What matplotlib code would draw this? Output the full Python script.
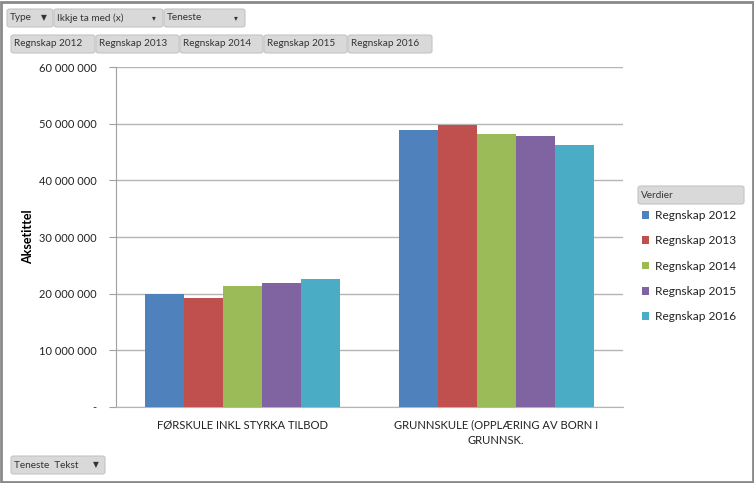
import numpy as np
import matplotlib
matplotlib.use("Agg")
import matplotlib.pyplot as plt
from matplotlib.patches import FancyBboxPatch, Rectangle

plt.rcParams['font.family'] = ['Lato', 'DejaVu Sans']

# data
categories = ["FØRSKULE INKL STYRKA TILBOD", "GRUNNSKULE (OPPLÆRING AV BORN I\nGRUNNSK."]
series = ["Regnskap 2012", "Regnskap 2013", "Regnskap 2014", "Regnskap 2015", "Regnskap 2016"]
v2012 = [20.0e6, 48.8e6]
v2013 = [19.2e6, 49.8e6]
v2014 = [21.3e6, 48.2e6]
v2015 = [21.8e6, 47.8e6]
v2016 = [22.6e6, 46.2e6]
yticks = [0, 10e6, 20e6, 30e6, 40e6, 50e6, 60e6]
ytick_labels = ["-", "10 000 000", "20 000 000", "30 000 000", "40 000 000", "50 000 000", "60 000 000"]
colors = ["#4F81BD", "#C0504D", "#9BBB59", "#8064A2", "#4BACC6"]

W, H = 754, 483
fig = plt.figure(figsize=(W / 100, H / 100), dpi=100)

# axes placed in pixel coords
ax = fig.add_axes([116 / W, 1 - 407 / H, (623 - 116) / W, (407 - 67) / H])

values = [v2012, v2013, v2014, v2015, v2016]
x = np.arange(len(categories))
bw = 0.154
bars = []
for i, (vals, c) in enumerate(zip(values, colors)):
    b = ax.bar(x + (i - 2) * bw, vals, bw, color=c, label=series[i], zorder=3)
    bars.append(b)

ax.set_xlim(-0.5, 1.5)
ax.set_ylim(0, 60e6)
ax.set_yticks(yticks)
ax.set_yticklabels(ytick_labels, fontsize=8, color="#222222")
ax.set_xticks(x)
ax.set_xticklabels(categories, fontsize=8.1, color="#222222", linespacing=1.45)
ax.tick_params(axis="x", length=0, pad=9)
ax.tick_params(axis="y", length=5, color="#a0a0a0", pad=9)
ax.grid(axis="y", color="#b5b5b5", linewidth=1, zorder=0)
for s in ["top", "right"]:
    ax.spines[s].set_visible(False)
ax.spines["left"].set_color("#a0a0a0")
ax.spines["bottom"].set_color("#b5b5b5")
ax.set_ylabel("Aksetittel", fontsize=9, fontweight="bold")
ax.yaxis.set_label_coords((34 - 116) / 507, 0.5)

# legend
leg = fig.legend(handles=bars, labels=series, loc="upper left",
                 bbox_to_anchor=(642 / W, 1 - 210 / H), frameon=False,
                 fontsize=8.6, handlelength=0.6, handleheight=0.6,
                 handletextpad=0.5, labelspacing=1.2, borderpad=0,
                 borderaxespad=0)
for t in leg.get_texts():
    t.set_color("#222222")


def button(x0, y0, x1, y1, label, arrow=None):
    p = FancyBboxPatch((x0 / W, 1 - y1 / H), (x1 - x0) / W, (y1 - y0) / H,
                       boxstyle="round,pad=0,rounding_size=0.004",
                       transform=fig.transFigure, facecolor="#d9d9d9",
                       edgecolor="#c4c4c4", linewidth=0.8)
    fig.add_artist(p)
    fig.text((x0 + 3) / W, 1 - (y0 + y1) / 2 / H, label, fontsize=7.2,
             color="#333333", va="center", ha="left")
    if arrow:
        fig.text((x1 - 9) / W, 1 - (y0 + y1) / 2 / H, arrow, fontsize=5.5,
                 color="#333333", va="center", ha="center")


button(7, 9, 53, 27, "Type", "▼")
button(54, 9, 163, 27, "Ikkje ta med (x)", "▾")
button(164, 9, 245, 27, "Teneste", "▾")
for i, (a, b) in enumerate([(11, 95), (96, 179), (180, 263), (264, 347), (348, 432)]):
    button(a, 35, b, 53, series[i])
button(638, 186, 744, 204, "Verdier")
button(11, 456, 105, 474, "Teneste  Tekst", "▼")

# outer frame
fig.add_artist(Rectangle((0.5 / W, 1.5 / H), (W - 2) / W, (H - 3) / H,
                         transform=fig.transFigure, fill=False,
                         edgecolor="#8a8a8a", linewidth=2))

fig.savefig("out.png", dpi=100)
